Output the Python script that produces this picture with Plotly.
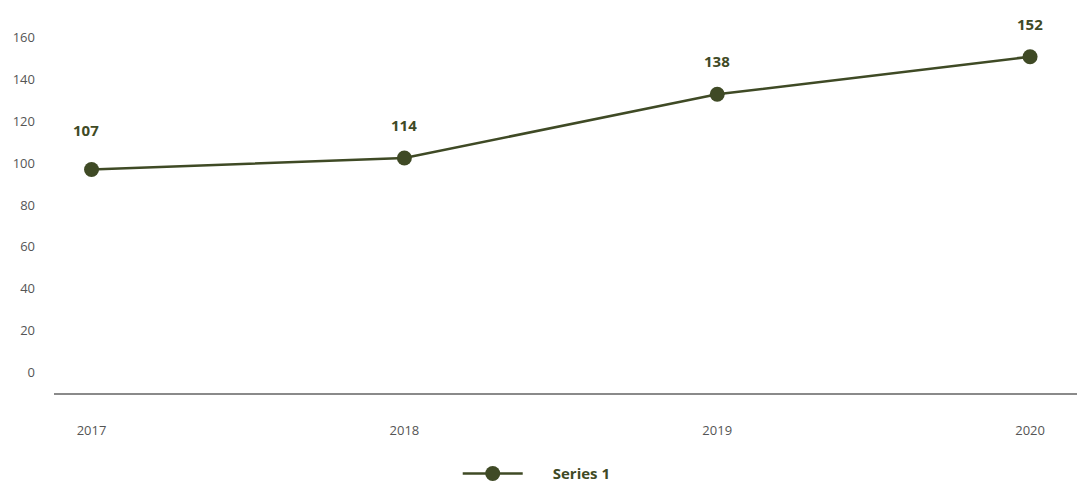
import plotly.graph_objects as go

years = ["2017", "2018", "2019", "2020"]
series_1 = [97, 102.5, 133, 151]
point_labels = ["107", "114", "138", "152"]
y_ticks = [0, 20, 40, 60, 80, 100, 120, 140, 160]

OLIVE = "#3f4a25"
FONT = "Open Sans, Lato, sans-serif"

fig = go.Figure()

fig.add_trace(go.Scatter(
    # leading spaces open up the gap between legend symbol and text
    name="\u2003\u2002\u2009Series 1",
    x=years,
    y=series_1,
    mode="lines+markers",
    line=dict(color=OLIVE, width=2.5),
    marker=dict(color=OLIVE, size=15),
    hovertemplate="%{x}: %{text}<extra></extra>",
    text=point_labels,
))

# value labels sit a fixed distance above each point
# (x given as category index, a "2017" string would be read as a number)
for i, (val, lab) in enumerate(zip(series_1, point_labels)):
    first = i == 0
    fig.add_annotation(
        x=i, y=val, text=f"<b>{lab}</b>", showarrow=False,
        yshift=39 if first else 33, xshift=-6 if first else 0,
        font=dict(family=FONT, size=15, color=OLIVE),
    )

fig.update_layout(
    width=1077,
    height=482,
    margin=dict(l=54, r=0, t=17, b=89),
    plot_bgcolor="white",
    paper_bgcolor="white",
    font=dict(family=FONT, size=13, color="#555555"),
    showlegend=True,
    legend=dict(
        orientation="h",
        xref="container", x=0.425, xanchor="left",
        yref="container", y=0.017, yanchor="middle",
        font=dict(family=FONT, size=15, color=OLIVE, weight="bold"),
        itemwidth=60,
    ),
    xaxis=dict(
        type="category",
        range=[-0.12, 3.15],
        showgrid=False,
        showline=True,
        linecolor="#8a8a8a",
        linewidth=2,
        ticks="",
        ticklabelstandoff=24,
        tickfont=dict(size=13, color="#555555"),
        zeroline=False,
        automargin=False,
    ),
    yaxis=dict(
        range=[-10, 170],
        tickvals=y_ticks,
        showgrid=False,
        showline=False,
        zeroline=False,
        ticks="",
        ticklabelstandoff=18,
        tickfont=dict(size=13, color="#555555"),
        automargin=False,
    ),
)

# drop the default 8px page margin so the figure fills the window exactly
fig.write_html(
    "out.html",
    config={"displayModeBar": False},
    post_script="document.body.style.margin='0';",
)
